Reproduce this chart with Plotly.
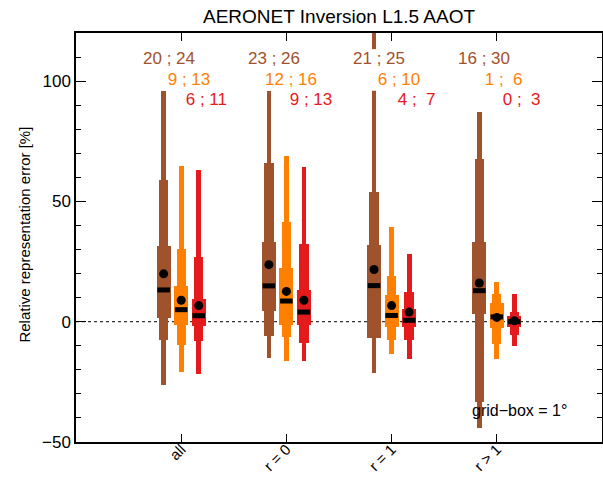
import plotly.graph_objects as go

# ---------------- data ----------------
groups = ["all", "r = 0", "r = 1", "r > 1"]
group_pos = [1, 2, 3, 4]

# brown series: whisker (outer), middle box, inner box, mean, median
brown_outer_lo = [-26.5, -14.9, -21.4, -44.3]
brown_outer_hi = [95.8, 95.7, 125.0, 87.0]
brown_mid_lo = [-7.5, -6.1, -6.8, -33.2]
brown_mid_hi = [58.7, 65.8, 54.0, 67.8]
brown_in_lo = [1.4, 4.6, -6.8, 3.3]
brown_in_hi = [31.4, 33.0, 32.0, 33.0]
brown_mean = [19.9, 23.7, 21.7, 16.1]
brown_median = [13.2, 14.9, 15.0, 12.9]
brown_lab_a = [20, 23, 21, 16]
brown_lab_b = [24, 26, 25, 30]

orange_outer_lo = [-21.0, -16.5, -13.4, -15.5]
orange_outer_hi = [64.7, 68.9, 39.3, 16.5]
orange_mid_lo = [-9.6, -6.5, -7.6, -9.2]
orange_mid_hi = [30.4, 41.4, 18.9, 11.7]
orange_in_lo = [-1.3, -1.5, -2.3, -2.6]
orange_in_hi = [14.7, 22.4, 11.2, 7.8]
orange_mean = [8.9, 12.6, 6.7, 1.8]
orange_median = [5.0, 8.6, 2.6, 2.0]
orange_lab_a = [9, 12, 6, 1]
orange_lab_b = [13, 16, 10, 6]

red_outer_lo = [-21.8, -16.2, -15.5, -10.0]
red_outer_hi = [63.0, 64.4, 28.3, 11.7]
red_mid_lo = [-8.2, -8.9, -7.5, -5.4]
red_mid_hi = [26.8, 32.4, 12.4, 3.9]
red_in_lo = [-1.7, -1.5, -2.3, -2.2]
red_in_hi = [9.4, 13.3, 5.3, 2.5]
red_mean = [6.7, 8.9, 4.0, 0.4]
red_median = [2.5, 4.0, 0.6, 0.0]
red_lab_a = [6, 9, 4, 0]
red_lab_b = [11, 13, 7, 3]

y_ticks = [-50, 0, 50, 100]

# ---------------- styling ----------------
FONT = "Liberation Sans, Arial, Helvetica, sans-serif"
series = [
    dict(color="#A0522D", off=-1/6, olo=brown_outer_lo, ohi=brown_outer_hi,
         mlo=brown_mid_lo, mhi=brown_mid_hi, ilo=brown_in_lo, ihi=brown_in_hi,
         mean=brown_mean, med=brown_median, la=brown_lab_a, lb=brown_lab_b, ly=109.2),
    dict(color="#FF7F00", off=0.0, olo=orange_outer_lo, ohi=orange_outer_hi,
         mlo=orange_mid_lo, mhi=orange_mid_hi, ilo=orange_in_lo, ihi=orange_in_hi,
         mean=orange_mean, med=orange_median, la=orange_lab_a, lb=orange_lab_b, ly=100.6),
    dict(color="#E41A1C", off=1/6, olo=red_outer_lo, ohi=red_outer_hi,
         mlo=red_mid_lo, mhi=red_mid_hi, ilo=red_in_lo, ihi=red_in_hi,
         mean=red_mean, med=red_median, la=red_lab_a, lb=red_lab_b, ly=92.3),
]
W_OUT, W_MID, W_IN = 0.045, 0.089, 0.132

fig = go.Figure()
annotations = []
for s in series:
    xs = [g + s["off"] for g in group_pos]
    for lo, hi, w in ((s["olo"], s["ohi"], W_OUT), (s["mlo"], s["mhi"], W_MID), (s["ilo"], s["ihi"], W_IN)):
        fig.add_trace(go.Bar(x=xs, base=lo, y=[h - l for l, h in zip(lo, hi)], width=w,
                             marker=dict(color=s["color"], line=dict(width=0)),
                             showlegend=False, hoverinfo="skip"))
for s in series:
    xs = [g + s["off"] for g in group_pos]
    fig.add_trace(go.Scatter(x=xs, y=s["med"], mode="markers", showlegend=False,
                             marker=dict(symbol="line-ew", size=9,
                                         line=dict(width=5, color="black"))))
    fig.add_trace(go.Scatter(x=xs, y=s["mean"], mode="markers", showlegend=False,
                             marker=dict(symbol="circle", size=9, color="black",
                                         line=dict(width=0))))
    for x, a, b in zip(xs, s["la"], s["lb"]):
        txt = f"{a:2d} ; {b:2d}".replace(" ", "\u00a0")
        annotations.append(dict(x=x, y=s["ly"], xref="x", yref="y", text=txt, showarrow=False,
                                xanchor="center", yanchor="middle", xshift=5,
                                font=dict(size=17, color=s["color"], family=FONT)))

# invisible trace on the right-hand axis so that its mirrored ticks are drawn
fig.add_trace(go.Scatter(x=[None], y=[None], yaxis="y2", showlegend=False, hoverinfo="skip"))

annotations += [
    dict(text="AERONET Inversion L1.5 AAOT", x=0.5, y=1.04, xref="paper", yref="paper",
         showarrow=False, xanchor="center", yanchor="middle",
         font=dict(size=19, color="black", family=FONT)),
    dict(text="Relative representation error [%]", x=-0.097, y=0.507, xref="paper", yref="paper",
         showarrow=False, textangle=-90, xanchor="center", yanchor="middle",
         font=dict(size=15, color="black", family=FONT)),
    dict(text="grid\u2212box = 1°", x=4.22, y=-37, xref="x", yref="y", showarrow=False,
         xanchor="center", yanchor="middle", font=dict(size=16, color="black", family=FONT)),
]

shapes = [
    dict(type="line", xref="x", yref="y", x0=0, x1=5, y0=0, y1=0,
         line=dict(color="black", width=1, dash="dot"), layer="below"),
    dict(type="rect", xref="x", yref="y", x0=3 - 1/6 - 0.05, x1=3 - 1/6 + 0.05, y0=96, y1=113.3,
         fillcolor="white", line=dict(width=0), layer="above"),
]

yax_common = dict(range=[-50, 120], tickmode="array", tickvals=y_ticks,
                  ticks="inside", ticklen=10, tickwidth=1, tickcolor="black",
                  minor=dict(dtick=10, ticks="inside", ticklen=5, tickcolor="black", showgrid=False),
                  showline=True, linecolor="black", linewidth=1.5,
                  showgrid=False, zeroline=False, automargin=False)

fig.update_layout(
    width=603, height=479,
    margin=dict(l=76, r=1, t=33, b=37, autoexpand=False),
    plot_bgcolor="white", paper_bgcolor="white",
    barmode="overlay", bargap=0,
    font=dict(family=FONT, color="black"),
    annotations=annotations, shapes=shapes,
    xaxis=dict(range=[0, 5], tickmode="array", tickvals=group_pos, ticktext=groups,
               ticks="inside", ticklen=8, tickwidth=1, tickcolor="black",
               showline=True, linecolor="black", linewidth=1.5, mirror="ticks",
               showgrid=False, zeroline=False, tickangle=-45, automargin=False,
               ticklabelstandoff=-9,
               tickfont=dict(size=15, family=FONT, color="black")),
    yaxis=dict(**yax_common, tickfont=dict(size=17, family=FONT, color="black")),
    yaxis2=dict(**yax_common, overlaying="y", side="right", showticklabels=False),
)

fig.write_html("out.html")
